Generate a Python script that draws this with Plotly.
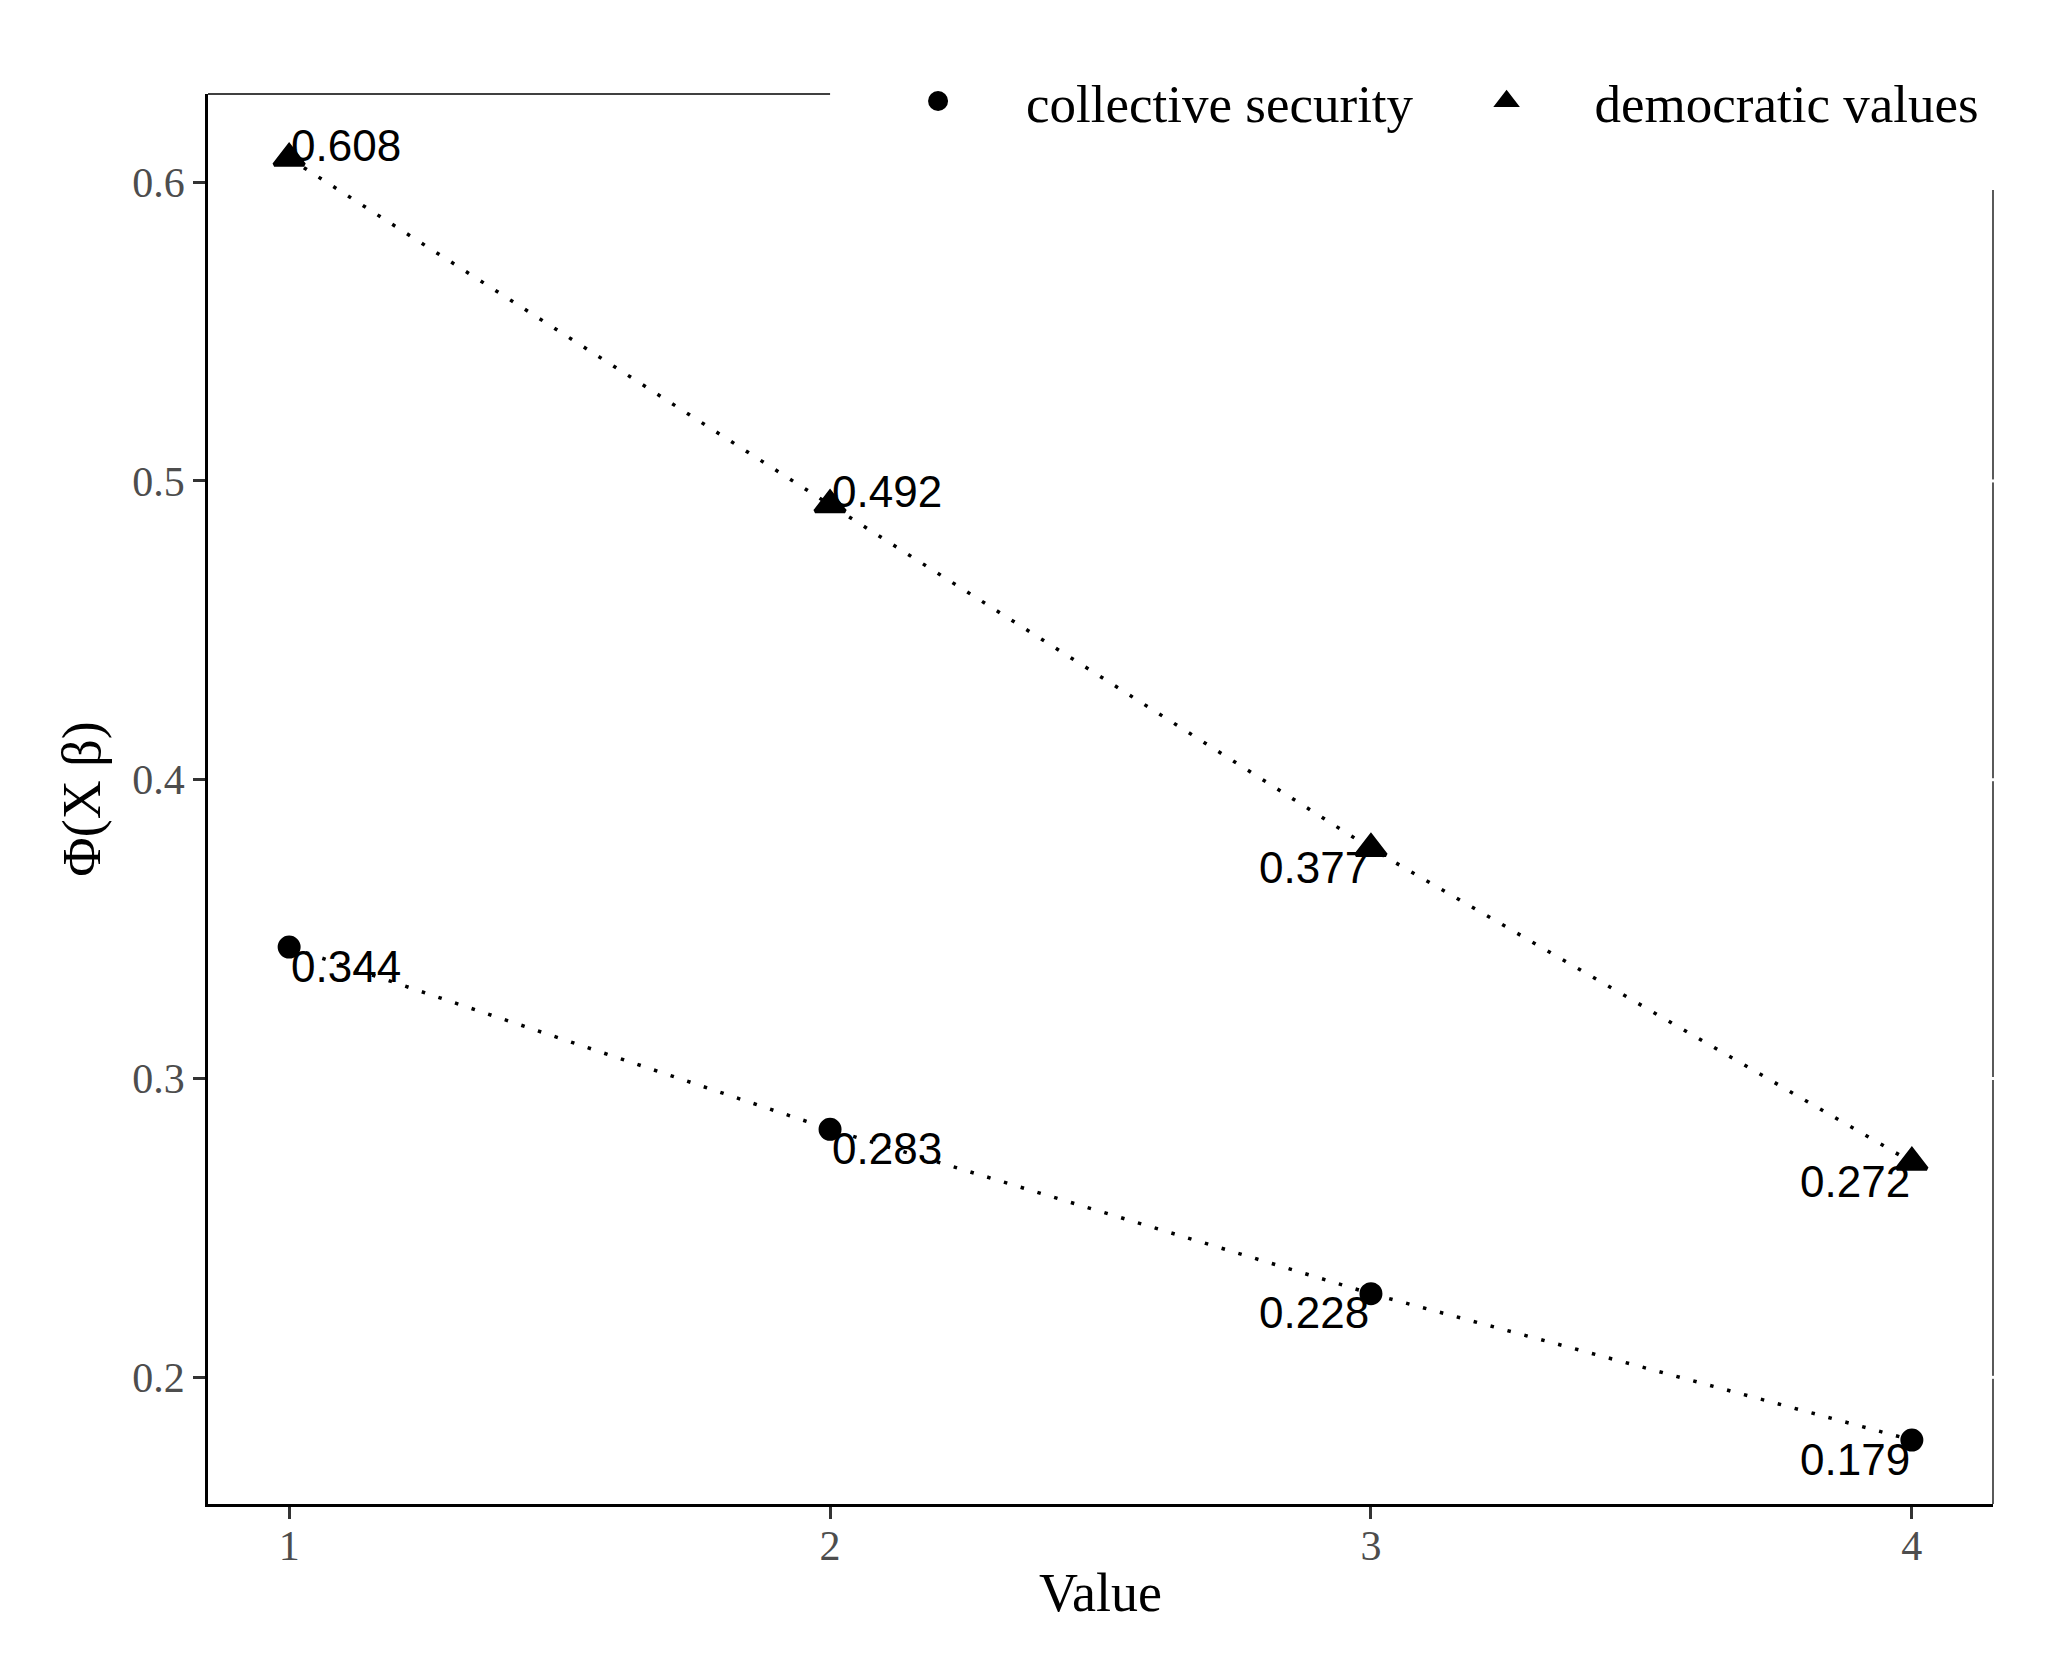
import plotly.graph_objects as go

# data
values = [1, 2, 3, 4]
collective_security = [0.344, 0.283, 0.228, 0.179]
democratic_values = [0.608, 0.492, 0.377, 0.272]
series_names = ["collective security", "democratic values"]
x_ticks = [1, 2, 3, 4]
y_ticks = [0.2, 0.3, 0.4, 0.5, 0.6]

SERIF = "Liberation Serif"
SANS = "Liberation Sans"

fig = go.Figure()

# marker outline also enlarges the (size-capped) legend symbols
series = [
    (series_names[0], collective_security, "circle", 19),
    (series_names[1], democratic_values, "triangle-up", 26),
]

# dotted connecting lines (behind markers)
for name, ys, sym, size in series:
    fig.add_trace(go.Scatter(
        x=values, y=ys, mode="lines",
        line=dict(color="black", width=3.5, dash="3.5px,14px"),
        showlegend=False, hoverinfo="skip"
    ))

# markers
for name, ys, sym, size in series:
    fig.add_trace(go.Scatter(
        x=values, y=ys, mode="markers", name=name,
        marker=dict(symbol=sym, size=size, color="black", line=dict(width=4, color="black")),
    ))

# value labels
for name, ys, sym, size in series:
    for x, y in zip(values, ys):
        left = x <= 2
        above = (name == series_names[1]) and left
        fig.add_annotation(
            x=x, y=y, text=f"{y:.3f}", showarrow=False,
            xanchor="left" if left else "right", yanchor="middle",
            yshift=13 if above else -19,
            font=dict(family=SANS, size=44, color="black"),
        )

# thin top / right panel border
fig.add_shape(type="line", xref="paper", yref="paper", x0=0, x1=1, y0=1, y1=1,
              line=dict(color="black", width=1.3), layer="above")
fig.add_shape(type="line", xref="paper", yref="paper", x0=1, x1=1, y0=0, y1=1,
              line=dict(color="black", width=1.3), layer="above")

# white patch where the legend sits over the panel border
fig.add_shape(type="rect", xref="paper", yref="paper",
              x0=0.3485, x1=1.1, y0=0.932, y1=1.1,
              fillcolor="white", line=dict(width=0), layer="above")

# small breaks in the right border at the y breaks
for v in y_ticks:
    fig.add_shape(type="line", xref="paper", yref="y",
                  x0=0.996, x1=1.004, y0=v, y1=v,
                  line=dict(color="white", width=3), layer="above")

axis_common = dict(
    showgrid=False, zeroline=False,
    showline=True, linecolor="black", linewidth=2.5, mirror=False,
    ticks="outside", ticklen=12, tickwidth=3, tickcolor="#333333",
    tickfont=dict(family=SERIF, size=42, color="#4D4D4D"),
)

fig.update_layout(
    width=2045, height=1659,
    margin=dict(l=200, r=60, t=86, b=163),
    plot_bgcolor="white", paper_bgcolor="white",
    xaxis=dict(range=[0.85, 4.15], tickvals=x_ticks, ticklabelstandoff=-9,
               title=dict(text="Value", font=dict(family=SERIF, size=54, color="black"), standoff=6),
               **axis_common),
    yaxis=dict(range=[0.1576, 0.6295], tickvals=y_ticks, ticktext=[f"{v:.1f}" for v in y_ticks],
               title=dict(text="Φ(X β)", font=dict(family=SERIF, size=54, color="black"), standoff=15),
               **axis_common),
    legend=dict(orientation="h", x=0.3597, xanchor="left", y=0.995, yanchor="middle",
                bgcolor="rgba(0,0,0,0)", itemwidth=166,
                font=dict(family=SERIF, size=53, color="black")),
    showlegend=True,
)

fig.write_html("out.html")
